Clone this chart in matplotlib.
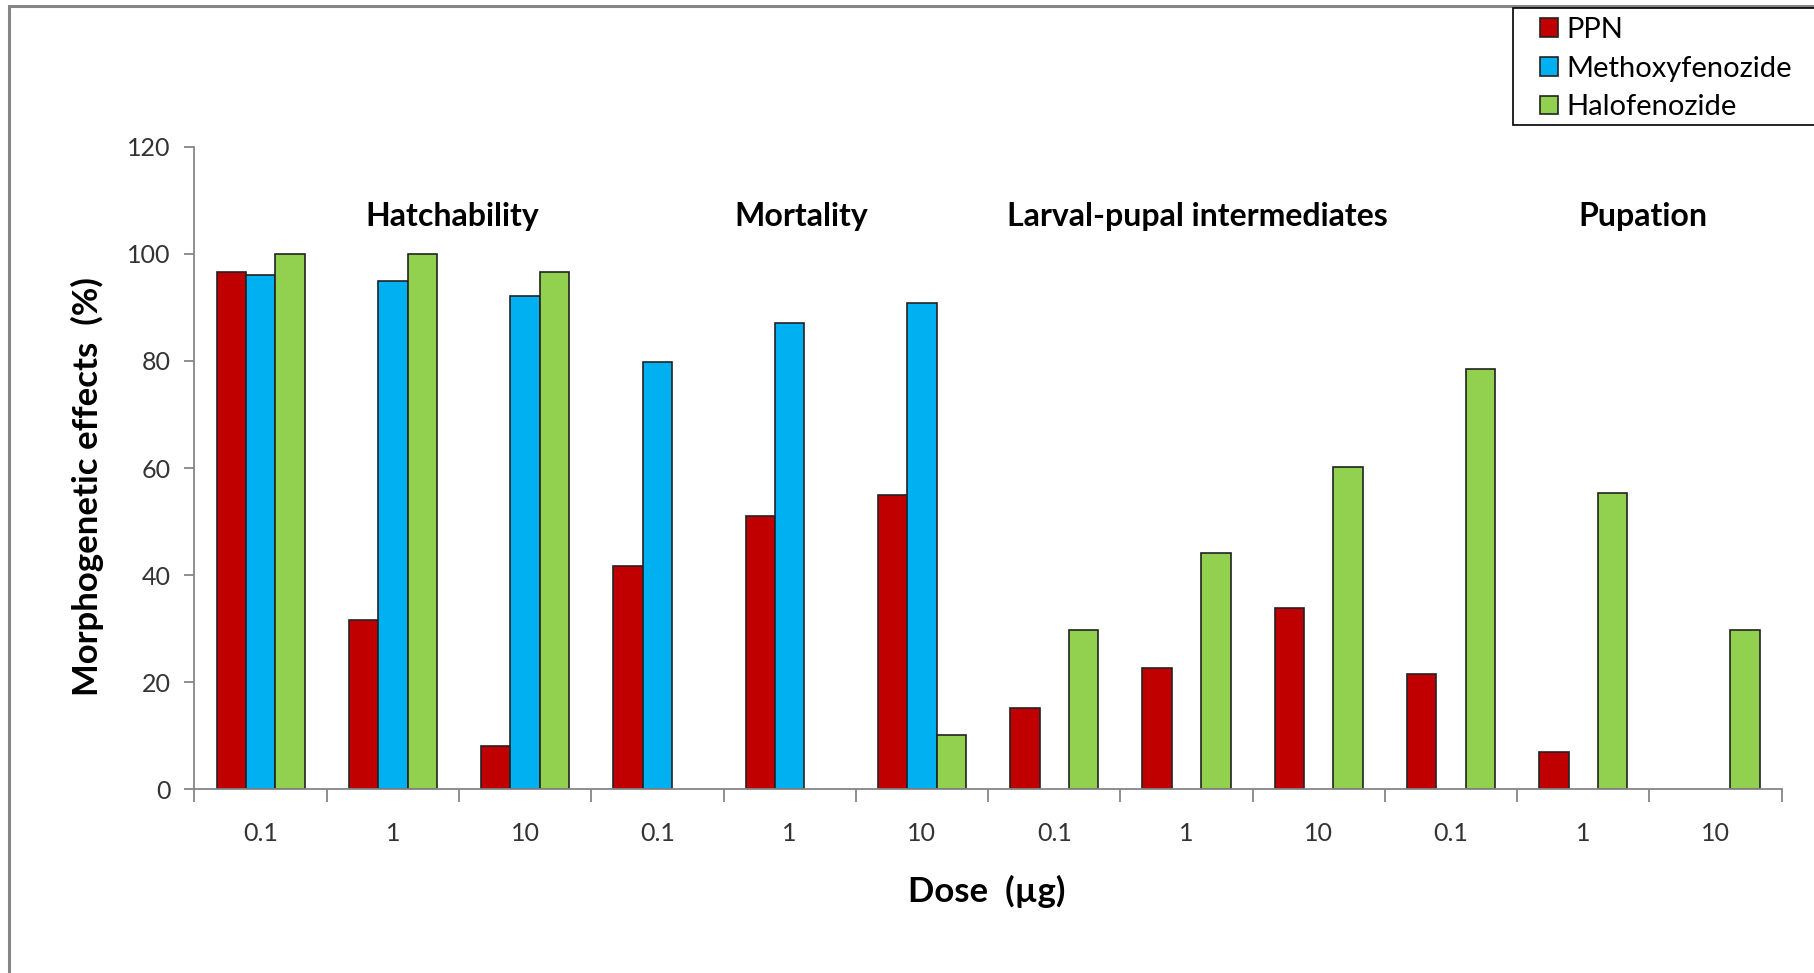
import numpy as np
import matplotlib.pyplot as plt
from matplotlib.patches import Rectangle

plt.rcParams['font.family'] = ['Lato', 'DejaVu Sans']

# Data
doses = ['0.1', '1', '10', '0.1', '1', '10', '0.1', '1', '10', '0.1', '1', '10']
groups = ['Hatchability', 'Mortality', 'Larval-pupal intermediates', 'Pupation']
group_pos = [1.45, 4.09, 7.08, 10.45]
series = ['PPN', 'Methoxyfenozide', 'Halofenozide']
ppn = [96.6, 31.6, 8.0, 41.7, 51.0, 54.9, 15.1, 22.7, 33.9, 21.6, 6.9, np.nan]
methoxy = [96.0, 95.0, 92.1, 79.8, 87.1, 90.8, np.nan, np.nan, np.nan, np.nan, np.nan, np.nan]
halo = [100.0, 100.0, 96.6, np.nan, np.nan, 10.2, 29.8, 44.1, 60.1, 78.5, 55.4, 29.8]
colors = ['#C00000', '#00B0F0', '#92D050']

fig = plt.figure(figsize=(18.14, 9.73), dpi=100)
ax = fig.add_axes([0.1072, 0.189, 0.875, 0.660])

x = np.arange(len(doses))
w = 1 / 4.5  # Excel gap width 150%
for i, (vals, name, c) in enumerate(zip([ppn, methoxy, halo], series, colors)):
    ax.bar(x + (i - 1) * w, vals, width=w, color=c, edgecolor='#222222',
           linewidth=1.2, label=name)

ax.set_xlim(-0.5, len(doses) - 0.5)
ax.set_ylim(0, 120)
ax.set_yticks(np.arange(0, 121, 20))

# category boundaries as major ticks, dose labels as minor ticks
ax.set_xticks(np.arange(-0.5, len(doses), 1))
ax.set_xticklabels([])
ax.set_xticks(x, minor=True)
ax.set_xticklabels(doses, minor=True)
ax.tick_params(axis='x', which='major', length=9, width=1.3, color='#868686')
ax.tick_params(axis='x', which='minor', length=0, pad=24, labelsize=18, labelcolor='#333333')
ax.tick_params(axis='y', length=7, width=1.3, color='#868686', pad=10,
               labelsize=18, labelcolor='#333333')

for s in ['top', 'right']:
    ax.spines[s].set_visible(False)
for s in ['left', 'bottom']:
    ax.spines[s].set_color('#868686')
    ax.spines[s].set_linewidth(1.3)

for g, gx in zip(groups, group_pos):
    ax.text(gx, 107.0, g, ha='center', va='center', fontsize=23, fontweight='bold')

fig.text(0.048, 0.50, 'Morphogenetic effects  (%)', rotation=90, ha='center',
         va='center', fontsize=25, fontweight='bold')
fig.text(0.544, 0.084, 'Dose  (µg)', ha='center', va='center', fontsize=25,
         fontweight='bold')

# outer chart border (right and bottom edges run off the picture)
fig.patches.append(Rectangle((9 / 1814, -0.1), 1.2, 1 - 6 / 973 + 0.1,
                             transform=fig.transFigure, fill=False,
                             edgecolor='#868686', linewidth=2.2))

# legend box, also running off the right edge
fig.patches.append(Rectangle((1513 / 1814, 1 - 125 / 973), 0.3, 117 / 973,
                             transform=fig.transFigure, fill=True, facecolor='white',
                             edgecolor='black', linewidth=1.2, zorder=5))
leg = fig.legend(loc='upper left', bbox_to_anchor=(1540 / 1814, 1 - 17 / 973),
                 fontsize=21, frameon=False,
                 handlelength=0.6, handleheight=0.6, handletextpad=0.3,
                 labelspacing=0.43, borderpad=0, borderaxespad=0)
leg.set_zorder(6)

fig.savefig('out.png', dpi=100)
